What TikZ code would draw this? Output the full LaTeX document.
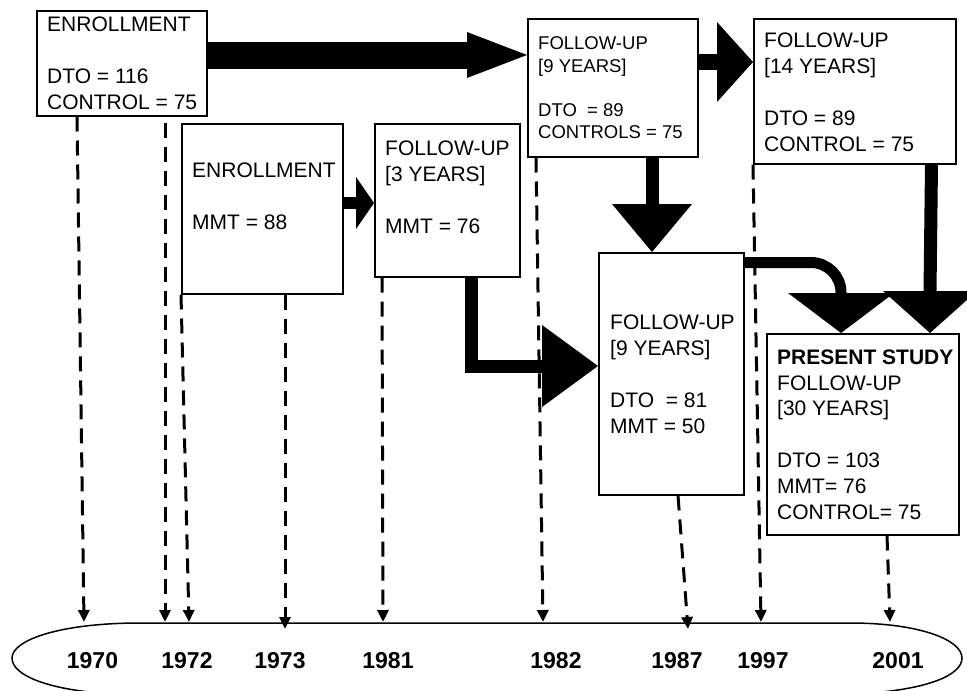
\documentclass[tikz,border=0pt]{standalone}
\usepackage{fontspec}
\setmainfont{Liberation Sans}
\usetikzlibrary{arrows.meta,calc}
\begin{document}
\begin{tikzpicture}[x=1pt,y=-1pt,
  box/.style={draw, line width=1.5pt, inner sep=0pt, anchor=north west},
  txt/.style={anchor=base west, inner sep=0pt, align=left, font=\fontsize{21}{25.8}\selectfont},
  txtsmall/.style={anchor=base west, inner sep=0pt, align=left, font=\fontsize{18.5}{22.2}\selectfont},
  year/.style={anchor=base, inner sep=0pt, font=\fontsize{23}{23}\selectfont\bfseries},
  tl/.style={line width=3pt, dash pattern=on 15pt off 9pt, -{Triangle[length=12pt,width=11pt]}},
  shaft/.style={line width=#1, line cap=butt, line join=miter},
  headfill/.style={fill=black},
]
\fill[white] (0,0) rectangle (967,691);
\useasboundingbox (0,0) rectangle (967,691);
\clip (0,0) rectangle (967,691);

% boxes
\node[box, minimum width=170pt, minimum height=105pt] (A) at (36,10) {};
\node[box, minimum width=161pt, minimum height=170pt] (B) at (181,123) {};
\node[box, minimum width=145pt, minimum height=153pt] (C) at (374,123) {};
\node[box, minimum width=170pt, minimum height=138pt] (D) at (527,18) {};
\node[box, minimum width=202pt, minimum height=145pt] (E) at (753,18) {};
\node[box, minimum width=145pt, minimum height=242pt] (F) at (598,252) {};
\node[box, minimum width=192pt, minimum height=201pt] (G) at (766,333) {};

% texts (anchored at the baseline of the last line)
\node[txt] (At) at (47,109) {ENROLLMENT\\[25.8pt]DTO = 116\\CONTROL = 75};
\node[txt] (Bt) at (192,229) {ENROLLMENT\\[25.8pt]MMT = 88};
\node[txt] (Ct) at (385,233) {FOLLOW-UP\\{[3 YEARS]}\\[25.8pt]MMT = 76};
\node[txtsmall] (Dt) at (538,138.6) {FOLLOW-UP\\{[9 YEARS]}\\[22.2pt]DTO\ \ = 89\\CONTROLS = 75};
\node[txt] (Et) at (764,151) {FOLLOW-UP\\{[14 YEARS]}\\[25.8pt]DTO = 89\\CONTROL = 75};
\node[txt] (Ft) at (610,433) {FOLLOW-UP\\{[9 YEARS]}\\[25.8pt]DTO\ \ = 81\\MMT = 50};
\node[txt] (Gt) at (777,519) {\textbf{PRESENT STUDY}\\FOLLOW-UP\\{[30 YEARS]}\\[25.8pt]DTO = 103\\MMT= 76\\CONTROL= 75};

% timeline shape
\draw[line width=1.5pt] (140,623) -- (850,623)
  .. controls (920,623) and (962,640) .. (962,658)
  .. controls (962,676) and (925,689) .. (870,693)
  -- (100,693)
  .. controls (50,689) and (12,676) .. (12,658)
  .. controls (12,640) and (60,623) .. (140,623) -- cycle;

% years
\node[year] (y1970) at (92.5,668) {1970};
\node[year] (y1972) at (187,668) {1972};
\node[year] (y1973) at (280,668) {1973};
\node[year] (y1981) at (388,668) {1981};
\node[year] (y1982) at (556,668) {1982};
\node[year] (y1987) at (677,668) {1987};
\node[year] (y1997) at (763,668) {1997};
\node[year] (y2001) at (898,668) {2001};

% tip coordinates on the timeline
\coordinate (t1970) at (84,622);
\coordinate (t1972a) at (165,622);
\coordinate (t1972b) at (189,622);
\coordinate (t1973) at (285,629);
\coordinate (t1981) at (383,622);
\coordinate (t1982) at (543,622);
\coordinate (t1987) at (688,629);
\coordinate (t1997) at (761,622);
\coordinate (t2001) at (890,622);
\coordinate (s1972a) at (165,123);

% dashed connectors
\draw[tl] ([xshift=41pt]A.south west) -- (t1970);
\draw[tl] (s1972a) -- (t1972a);
\draw[tl] (B.south west) -- (t1972b);
\draw[tl] ([xshift=104pt]B.south west) -- (t1973);
\draw[tl] ([xshift=8pt]C.south west) -- (t1981);
\draw[tl] ([xshift=9pt]D.south west) -- (t1982);
\draw[tl] ([xshift=80pt]F.south west) -- (t1987);
\draw[tl] (E.south west) -- (t1997);
\draw[tl] ([xshift=121pt]G.south west) -- (t2001);

% thick arrows
% A -> D
\coordinate (h1) at ([yshift=-37pt]D.north west);
\draw[shaft=27pt] ([yshift=-45pt]A.north east) -- ([xshift=-59pt]h1);
\fill[headfill] (h1) -- ++(-60,-23) -- ++(0,46) -- cycle;
% B -> C
\coordinate (h2) at ([yshift=-80pt]C.north west);
\draw[shaft=12pt] ([yshift=-80pt]B.north east) -- ([xshift=-17pt]h2);
\fill[headfill] (h2) -- ++(-18,-26) -- ++(0,52) -- cycle;
% D -> E
\coordinate (h3) at ([yshift=-44pt]E.north west);
\draw[shaft=16pt] ([yshift=-44pt]D.north east) -- ([xshift=-35pt]h3);
\fill[headfill] (h3) -- ++(-36,-40) -- ++(0,80) -- cycle;
% D -> F
\coordinate (h4) at ([xshift=54pt]F.north west);
\draw[shaft=13pt] ([xshift=125pt]D.south west) -- ([yshift=47pt]h4);
\fill[headfill] (h4) -- ++(-40,-48) -- ++(80,0) -- cycle;
% C -> F
\coordinate (h5) at ([yshift=-114pt]F.north west);
\draw[shaft=13pt] ([xshift=97pt]C.south west) |- ([xshift=-55pt]h5);
\fill[headfill] (h5) -- ++(-56,-41) -- ++(0,82) -- cycle;
% F -> G (curved)
\coordinate (h6) at ([xshift=75pt]G.north west);
\draw[shaft=11pt, rounded corners=30pt] ([yshift=-10.5pt]F.north east) -| ([yshift=37pt]h6);
\fill[headfill] (h6) -- ++(-53,-40) -- ++(106,0) -- cycle;
% E -> G
\coordinate (h7) at ([xshift=164pt]G.north west);
\draw[shaft=13pt] ([xshift=-25pt]E.south east) -- ([yshift=41pt]h7);
\fill[headfill] (h7) -- ++(-47,-42) -- ++(94,0) -- cycle;
\end{tikzpicture}
\end{document}
